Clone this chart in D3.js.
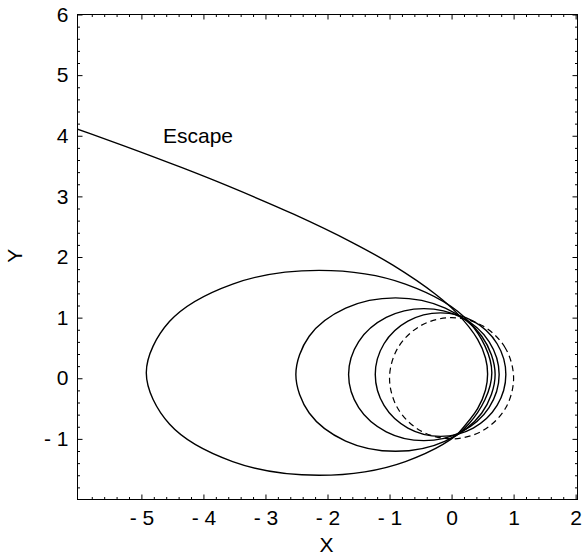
<!DOCTYPE html>
<html>
<head>
<meta charset="utf-8">
<script src="https://cdn.jsdelivr.net/npm/d3@7"></script>
<style>
  body { margin: 0; background: #fff; }
  text { font-family: "Liberation Sans", Arial, Helvetica, sans-serif; fill: #000; }
</style>
</head>
<body>
<div id="chart"></div>
<script>
// tick labels
let xTicks = [-5, -4, -3, -2, -1, 0, 1, 2];
let yTicks = [-1, 0, 1, 2, 3, 4, 5, 6];

// reference circle (dashed)
let circleOrbit = [[1, 0], [0.866, 0.5], [0.5, 0.866], [0, 1], [-0.5, 0.866], [-0.866, 0.5],
  [-1, 0], [-0.866, -0.5], [-0.5, -0.866], [0, -1], [0.5, -0.866], [0.866, -0.5]];

// closed orbits, largest first
let orbit1 = [[0.649, 0.09], [0.276, 0.935], [-0.744, 1.554], [-2.136, 1.78], [-3.529, 1.554], [-4.548, 0.935],
  [-4.921, 0.09], [-4.548, -0.755], [-3.529, -1.374], [-2.136, -1.60], [-0.744, -1.374], [0.276, -0.755]];
let orbit2 = [[0.702, 0.06], [0.487, 0.693], [-0.101, 1.156], [-0.904, 1.325], [-1.707, 1.156], [-2.295, 0.693],
  [-2.51, 0.06], [-2.295, -0.573], [-1.707, -1.036], [-0.904, -1.205], [-0.101, -1.036], [0.487, -0.573]];
let orbit3 = [[0.767, 0.06], [0.604, 0.605], [0.16, 1.003], [-0.447, 1.149], [-1.053, 1.003], [-1.497, 0.605],
  [-1.66, 0.06], [-1.497, -0.485], [-1.053, -0.883], [-0.447, -1.029], [0.16, -0.883], [0.604, -0.485]];
let orbit4 = [[0.875, 0.06], [0.734, 0.569], [0.349, 0.942], [-0.178, 1.078], [-0.704, 0.942], [-1.089, 0.569],
  [-1.23, 0.06], [-1.089, -0.449], [-0.704, -0.822], [-0.178, -0.958], [0.349, -0.822], [0.734, -0.449]];

// escape trajectory (open)
let escapePath = [[0.09, -0.93], [0.42, -0.501], [0.547, -0.194], [0.581, 0.07], [0.547, 0.334], [0.42, 0.641],
  [0.09, 1.07], [-0.264, 1.389], [-0.946, 1.865], [-1.607, 2.242], [-2.546, 2.706], [-3.607, 3.172],
  [-4.345, 3.473], [-5.292, 3.838], [-6.546, 4.297]];

let svgWidth = 582;
let svgHeight = 557;
let margin = { top: 14, right: 5, bottom: 58, left: 77 };
let chartWidth = svgWidth - margin.left - margin.right;   // 500
let chartHeight = svgHeight - margin.top - margin.bottom; // 485

let svg = d3.select("#chart").append("svg")
  .attr("width", svgWidth)
  .attr("height", svgHeight);

let chartGroup = svg.append("g")
  .attr("transform", `translate(${margin.left + 0.5}, ${margin.top + 0.5})`);

let xScale = d3.scaleLinear().domain([-6.03, 2.03]).range([0, chartWidth]);
let yScale = d3.scaleLinear().domain([-2, 6]).range([chartHeight, 0]);

let fmt = d => d < 0 ? "- " + Math.abs(d) : String(d);
let xMinor = d3.range(-60, 21, 2).map(d => d / 10).filter(d => d % 1 !== 0);
let yMinor = d3.range(-20, 61, 2).map(d => d / 10).filter(d => d % 1 !== 0);

function styleAxis(g) {
  g.select(".domain").remove();
  g.selectAll("line").attr("stroke", "#000");
  g.selectAll("text").attr("font-size", "21px").attr("fill", "#000");
}

// major ticks, inward, with labels
chartGroup.append("g")
  .attr("transform", `translate(0, ${chartHeight})`)
  .call(d3.axisBottom(xScale).tickValues(xTicks).tickSize(-5).tickPadding(11).tickFormat(fmt))
  .call(styleAxis);
chartGroup.append("g")
  .call(d3.axisLeft(yScale).tickValues(yTicks).tickSize(-5).tickPadding(9).tickFormat(fmt))
  .call(styleAxis);
// minor ticks
chartGroup.append("g")
  .attr("transform", `translate(0, ${chartHeight})`)
  .call(d3.axisBottom(xScale).tickValues(xMinor).tickSize(-2.5).tickFormat(""))
  .call(styleAxis);
chartGroup.append("g")
  .call(d3.axisLeft(yScale).tickValues(yMinor).tickSize(-2.5).tickFormat(""))
  .call(styleAxis);
// top and right ticks
chartGroup.append("g")
  .call(d3.axisTop(xScale).tickValues(xTicks).tickSize(-5).tickFormat(""))
  .call(styleAxis);
chartGroup.append("g")
  .call(d3.axisTop(xScale).tickValues(xMinor).tickSize(-2.5).tickFormat(""))
  .call(styleAxis);
chartGroup.append("g")
  .attr("transform", `translate(${chartWidth}, 0)`)
  .call(d3.axisRight(yScale).tickValues(yTicks).tickSize(-5).tickFormat(""))
  .call(styleAxis);
chartGroup.append("g")
  .attr("transform", `translate(${chartWidth}, 0)`)
  .call(d3.axisRight(yScale).tickValues(yMinor).tickSize(-2.5).tickFormat(""))
  .call(styleAxis);

// frame
chartGroup.append("rect")
  .attr("width", chartWidth)
  .attr("height", chartHeight)
  .attr("fill", "none")
  .attr("stroke", "#000");

chartGroup.append("clipPath").attr("id", "plotclip")
  .append("rect").attr("width", chartWidth).attr("height", chartHeight);

let plot = chartGroup.append("g").attr("clip-path", "url(#plotclip)");

let closedLine = d3.line()
  .x(d => xScale(d[0]))
  .y(d => yScale(d[1]))
  .curve(d3.curveCatmullRomClosed);
let openLine = d3.line()
  .x(d => xScale(d[0]))
  .y(d => yScale(d[1]))
  .curve(d3.curveCatmullRom);

[orbit1, orbit2, orbit3, orbit4].forEach(o => {
  plot.append("path")
    .attr("d", closedLine(o))
    .attr("fill", "none")
    .attr("stroke", "#000")
    .attr("stroke-width", 1.4);
});

plot.append("path")
  .attr("d", closedLine(circleOrbit))
  .attr("fill", "none")
  .attr("stroke", "#000")
  .attr("stroke-width", 1.2)
  .attr("stroke-dasharray", "6,4");

plot.append("path")
  .attr("d", openLine(escapePath))
  .attr("fill", "none")
  .attr("stroke", "#000")
  .attr("stroke-width", 1.4);

// labels
chartGroup.append("text")
  .attr("x", 198 - margin.left - 0.5)
  .attr("y", 143 - margin.top - 0.5)
  .attr("text-anchor", "middle")
  .attr("font-size", "21px")
  .text("Escape");

chartGroup.append("text")
  .attr("x", 326.5 - margin.left - 0.5)
  .attr("y", 552 - margin.top - 0.5)
  .attr("text-anchor", "middle")
  .attr("font-size", "21px")
  .text("X");

chartGroup.append("text")
  .attr("transform", "rotate(-90)")
  .attr("x", -(255.7 - margin.top - 0.5))
  .attr("y", 22 - margin.left - 0.5)
  .attr("text-anchor", "middle")
  .attr("font-size", "21px")
  .text("Y");
</script>
</body>
</html>
